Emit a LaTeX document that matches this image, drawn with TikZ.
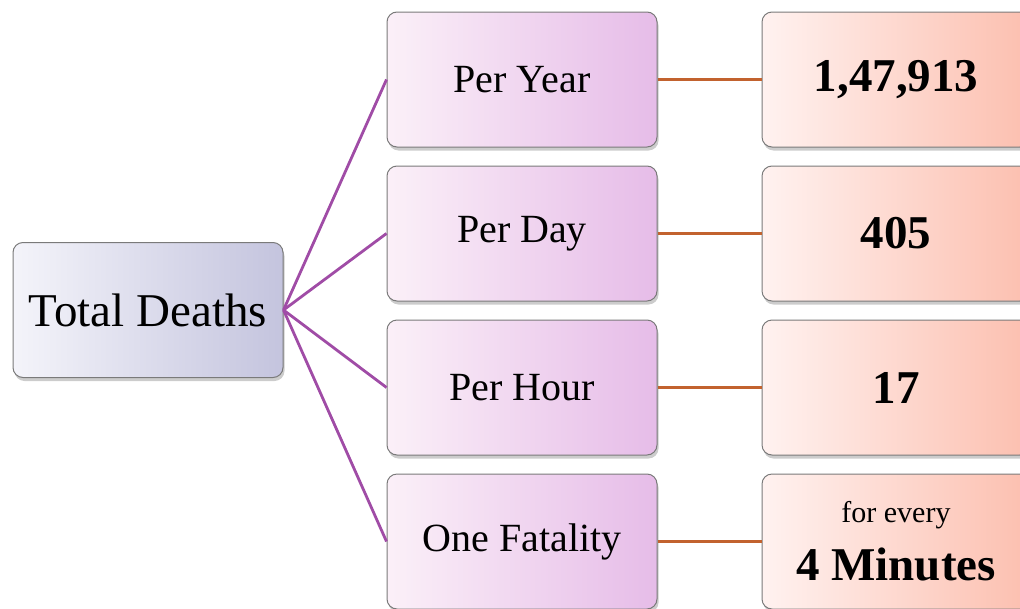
\documentclass[tikz,border=0pt]{standalone}
\usepackage{fontspec}
\setmainfont{Liberation Serif}
\usetikzlibrary{shadows}
\definecolor{purp}{HTML}{A04CA6}
\definecolor{orng}{HTML}{C2622E}
\definecolor{rootL}{HTML}{F4F4FA}
\definecolor{rootR}{HTML}{C4C4DE}
\definecolor{midL}{HTML}{FBF0F8}
\definecolor{midR}{HTML}{E6BCE8}
\definecolor{valL}{HTML}{FFF2F0}
\definecolor{valR}{HTML}{FCBFAF}
\definecolor{edge}{HTML}{7A7A7A}
\tikzset{
  base/.style={rounded corners=10pt, draw=edge, line width=1pt,
    minimum height=135pt, inner sep=0pt,
    drop shadow={shadow xshift=1.5pt, shadow yshift=-3.5pt, opacity=0.4}},
  rootbox/.style={base, minimum width=270pt, left color=rootL, right color=rootR,
    font=\fontsize{47}{50}\selectfont},
  midbox/.style={base, minimum width=270pt, left color=midL, right color=midR,
    font=\fontsize{40}{44}\selectfont},
  valbox/.style={base, minimum width=268pt, left color=valL, right color=valR,
    font=\fontsize{47}{50}\selectfont\bfseries, align=center},
  pconn/.style={purp, line width=2.8pt},
  oconn/.style={orng, line width=2.8pt}
}
\begin{document}
\begin{tikzpicture}[x=1pt,y=-1pt]
\useasboundingbox (0,0) rectangle (1020,608);
\clip (0,0) rectangle (1020,608);
\node[rootbox] (root) at (148,310) {Total Deaths};
\node[midbox] (m1) at (522,79.5) {Per Year};
\node[midbox] (m2) at (522,233.5) {Per Day};
\node[midbox] (m3) at (522,387.5) {Per Hour};
\node[midbox] (m4) at (522,541.5) {One Fatality};
\node[valbox] (v1) at (896,79.5) {1,47,913};
\node[valbox] (v2) at (896,233.5) {405};
\node[valbox] (v3) at (896,387.5) {17};
\node[valbox] (v4) at (896,541.5) {{\mdseries\fontsize{30}{36}\selectfont for every}\\[8pt]4 Minutes};
\foreach \m in {m1,m2,m3,m4}{
  \draw[pconn] (root.east) -- (\m.west);
}
\foreach \i in {1,2,3,4}{
  \draw[oconn] (m\i.east) -- (v\i.west);
}
\end{tikzpicture}
\end{document}
